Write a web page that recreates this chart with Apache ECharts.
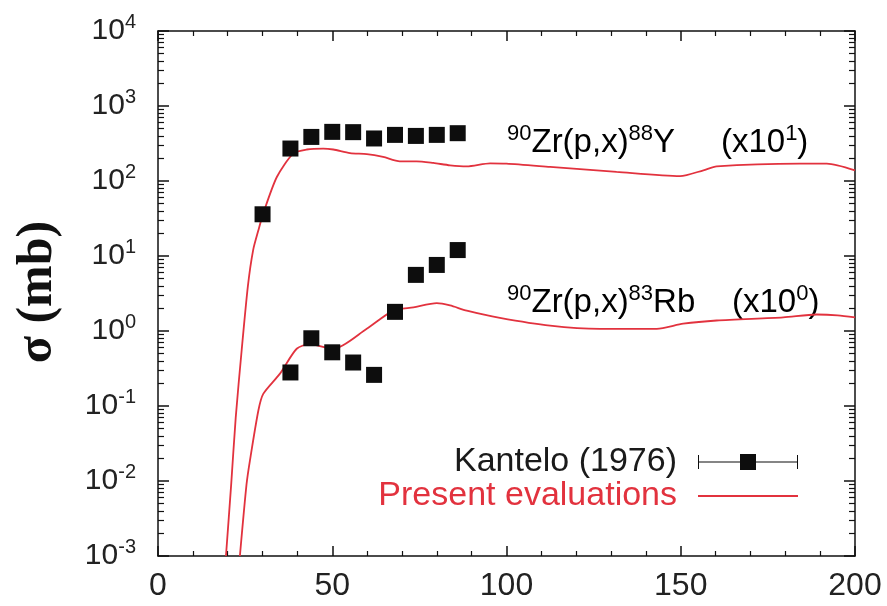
<!DOCTYPE html>
<html>
<head>
<meta charset="utf-8">
<script src="https://cdn.jsdelivr.net/npm/echarts@6/dist/echarts.min.js"></script>
<style>
html,body{margin:0;padding:0;background:#fff;}
#c{width:887px;height:606px;}
</style>
</head>
<body>
<div id="c"></div>
<script>
// Experimental data: Kantelo (1976)
var expEnergy = [30, 38, 44, 50, 56, 62, 68, 74, 80, 86];
var expY88 = [36, 271, 387, 452, 448, 369, 412, 399, 412, 434];        // 90Zr(p,x)88Y x10
var expEnergyRb = [38, 44, 50, 56, 62, 68, 74, 80, 86];
var expRb83 = [0.28, 0.80, 0.52, 0.38, 0.26, 1.80, 5.6, 7.6, 12];      // 90Zr(p,x)83Rb x1

// Present evaluations
var evalEnergyY = [19.5, 21, 22.3, 24, 25.8, 27.3, 28.8, 30.2, 34.1, 38.8, 42.7, 47.4, 50.3, 55.1, 59.9, 64.6, 69.4, 74.2, 79, 83.8, 88.6, 95.3, 100, 112.5, 131.6, 149.8, 156.5, 160.3, 184.2, 191.9, 200];
var evalY88 = [0.001, 0.009, 0.07, 0.55, 4, 12, 22, 37, 113, 232, 263, 271, 263, 235, 228, 209, 183, 183, 174, 162, 157, 172, 170, 154, 132, 116, 139, 157, 171, 171, 139];
var evalEnergyRb = [23.5, 25.4, 26.4, 28.8, 30.2, 35, 39.8, 43.6, 50.3, 59.9, 67.5, 73.3, 80, 83.8, 88.6, 98.1, 112.5, 126.8, 143.1, 150.7, 160.3, 179.4, 189, 195, 200];
var evalRb83 = [0.001, 0.009, 0.019, 0.087, 0.145, 0.27, 0.58, 0.67, 0.577, 1.07, 1.87, 2.07, 2.35, 2.19, 1.87, 1.5, 1.18, 1.07, 1.07, 1.25, 1.38, 1.52, 1.66, 1.62, 1.52];

// Axis ticks
var xTicks = [0, 50, 100, 150, 200];
var yRange = [0.001, 10000];

var RED = '#e2323e';
var FONT = '"Liberation Sans", Arial, Helvetica, sans-serif';

function zip(xs, ys) { return xs.map(function (x, i) { return [x, ys[i]]; }); }

function axisLine() { return {show: true, onZero: false, lineStyle: {color: '#111', width: 1.5}}; }
function majorTick(len) { return {show: true, inside: true, length: len, lineStyle: {color: '#111', width: 1.5}}; }
function minorTick(n, len) { return {show: true, splitNumber: n, length: len, lineStyle: {color: '#111', width: 1.2}}; }

var chart = echarts.init(document.getElementById('c'));

var option = {
  backgroundColor: '#fff',
  animation: false,
  grid: {left: 158, right: 32, top: 31, bottom: 50},
  xAxis: [{
    type: 'value', min: xTicks[0], max: xTicks[xTicks.length - 1], interval: 50,
    axisLine: axisLine(), axisTick: majorTick(10), minorTick: minorTick(5, 5),
    splitLine: {show: false}, minorSplitLine: {show: false},
    axisLabel: {fontSize: 32, fontFamily: FONT, color: '#222', margin: 14}
  }, {
    type: 'value', position: 'top', min: xTicks[0], max: xTicks[xTicks.length - 1], interval: 50,
    axisLine: axisLine(), axisTick: majorTick(10), minorTick: minorTick(5, 5),
    splitLine: {show: false}, minorSplitLine: {show: false},
    axisLabel: {show: false}
  }],
  yAxis: [{
    type: 'log', logBase: 10, min: yRange[0], max: yRange[1], splitNumber: 7,
    axisLine: axisLine(), axisTick: majorTick(11), minorTick: minorTick(9, 6),
    splitLine: {show: false}, minorSplitLine: {show: false},
    axisLabel: {
      margin: 22,
      formatter: function (v) {
        var e = Math.round(Math.log(v) / Math.LN10);
        return '{b|10}{s|' + e + '}';
      },
      rich: {
        b: {fontSize: 30, fontFamily: FONT, color: '#222'},
        s: {fontSize: 20, fontFamily: FONT, color: '#222', padding: [0, 0, 17, 0]}
      }
    }
  }, {
    type: 'log', logBase: 10, min: yRange[0], max: yRange[1], splitNumber: 7, position: 'right',
    axisLine: axisLine(), axisTick: majorTick(11), minorTick: minorTick(9, 6),
    splitLine: {show: false}, minorSplitLine: {show: false},
    axisLabel: {show: false}
  }],
  legend: {
    orient: 'vertical', align: 'right', right: 84, top: 440,
    itemWidth: 100, itemHeight: 16, itemGap: 0,
    textStyle: {fontSize: 34, fontFamily: FONT, lineHeight: 32, padding: [0, 16, 0, 0]},
    data: [{
      name: 'Kantelo (1976)',
      icon: 'path://M0,1 h1 v14 h-1 Z M99,1 h1 v14 h-1 Z M0,7.6 h100 v0.8 h-100 Z M42,0 h16 v16 h-16 Z',
      textStyle: {color: '#1a1a1a'}
    }, {
      name: 'Present evaluations',
      icon: 'path://M0,7.1 h100 v1.8 h-100 Z',
      textStyle: {color: RED}
    }]
  },
  series: [{
    name: 'Present evaluations', type: 'line', data: zip(evalEnergyY, evalY88),
    showSymbol: false, symbol: 'none', smooth: 0.25, clip: true,
    lineStyle: {color: RED, width: 1.8}, itemStyle: {color: RED}, z: 2
  }, {
    name: 'Present evaluations', type: 'line', data: zip(evalEnergyRb, evalRb83),
    showSymbol: false, symbol: 'none', smooth: 0.25, clip: true,
    lineStyle: {color: RED, width: 1.8}, itemStyle: {color: RED}, z: 2
  }, {
    name: 'Kantelo (1976)', type: 'scatter', data: zip(expEnergy, expY88),
    symbol: 'rect', symbolSize: 16, itemStyle: {color: '#0d0d0d', opacity: 1}, z: 3
  }, {
    name: 'Kantelo (1976)', type: 'scatter', data: zip(expEnergyRb, expRb83),
    symbol: 'rect', symbolSize: 16, itemStyle: {color: '#0d0d0d', opacity: 1}, z: 3
  }],
  graphic: [{
    type: 'text', x: 38, y: 292, rotation: Math.PI / 2, silent: true,
    style: {
      text: 'σ (mb)', fontSize: 50, fontWeight: 'bold',
      fontFamily: '"Liberation Serif", "Times New Roman", serif', fill: '#111',
      align: 'center', verticalAlign: 'middle'
    }
  }, {
    type: 'text', left: 507, top: 123, silent: true,
    style: {
      text: '{s|90}{m|Zr(p,x)}{s|88}{m|Y     (x10}{s|1}{m|)}',
      rich: {
        m: {fontSize: 33, fontFamily: FONT, color: '#222'},
        s: {fontSize: 22, fontFamily: FONT, color: '#222', padding: [0, 0, 18, 0]}
      }
    }
  }, {
    type: 'text', left: 507, top: 283, silent: true,
    style: {
      text: '{s|90}{m|Zr(p,x)}{s|83}{m|Rb    (x10}{s|0}{m|)}',
      rich: {
        m: {fontSize: 33, fontFamily: FONT, color: '#222'},
        s: {fontSize: 22, fontFamily: FONT, color: '#222', padding: [0, 0, 18, 0]}
      }
    }
  }]
};

chart.setOption(option);
</script>
</body>
</html>
